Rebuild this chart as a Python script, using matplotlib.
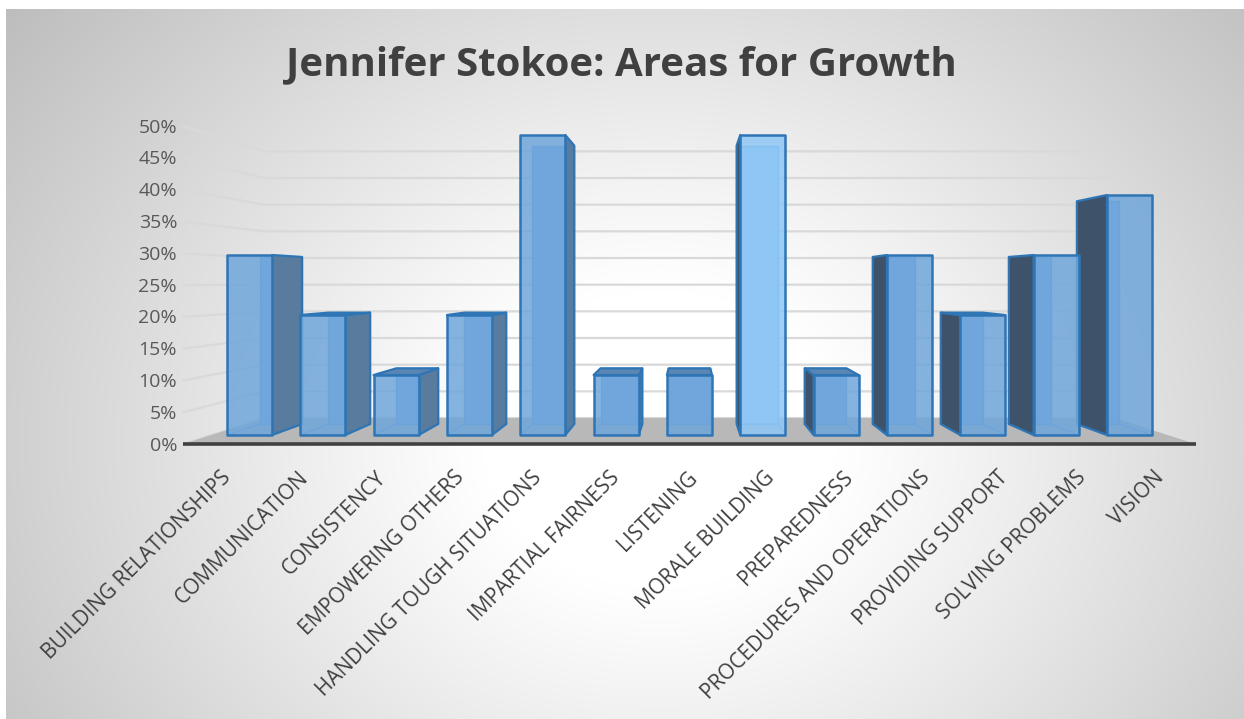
import numpy as np
import matplotlib.pyplot as plt
from matplotlib.patches import Polygon

# chart data
categories = [
    "BUILDING RELATIONSHIPS", "COMMUNICATION", "CONSISTENCY",
    "EMPOWERING OTHERS", "HANDLING TOUGH SITUATIONS", "IMPARTIAL FAIRNESS",
    "LISTENING", "MORALE BUILDING", "PREPAREDNESS",
    "PROCEDURES AND OPERATIONS", "PROVIDING SUPPORT", "SOLVING PROBLEMS",
    "VISION",
]
values = [30, 20, 10, 20, 50, 10, 10, 50, 10, 30, 20, 30, 40]
y_ticks = [0, 5, 10, 15, 20, 25, 30, 35, 40, 45, 50]
tick_labels = [f"{t}%" for t in y_ticks]
title = "Jennifer Stokoe: Areas for Growth"

# 3d look: simple perspective toward a vanishing point
VPX, VPY = 6.0, 25.5
K_FRONT, K_BAR_F, K_BAR_B, K_WALL = 1.06, 1.0, 0.928, 0.889
HALF = 0.307
WALL_L, WALL_R = -0.52, 12.52

FRONT_C = "#70a6db"
HILITE_C = "#8ec7f6"
EDGE_C = "#2e75b6"
INNER_C = "#5b9bd5"
SIDE_L_C = "#587b9e"
SIDE_R_C = "#3e5369"
TOP_C = "#5b86b3"


def proj(x, y, k):
    return VPX + k * (x - VPX), VPY + k * (y - VPY)


def quad(pts, **kw):
    return Polygon(pts, closed=True, **kw)


fig = plt.figure(figsize=(12.44, 7.19), dpi=100)

# background with radial shading
bg = fig.add_axes([0, 0, 1, 1])
bg.set_xlim(0, 1244)
bg.set_ylim(719, 0)
bg.axis("off")
gx, gy = np.meshgrid(np.linspace(6, 1244, 400), np.linspace(9, 719, 240))
r = np.sqrt(((gx - 660) / 640) ** 2 + ((gy - 440) / 540) ** 2)
shade = 255 - 68 * np.clip((r - 0.28) / 1.05, 0, 1) ** 1.05
img = np.dstack([shade, shade, shade]) / 255
bg.imshow(img, extent=(6, 1244, 719, 9), aspect="auto", interpolation="bilinear")

ax = fig.add_axes([0, 0, 1, 1])
ax.set_xlim(-3.402, 13.562)
ax.set_ylim(-47.33, 72.5)
ax.axis("off")

# gridlines on the side and back walls
for t in y_ticks:
    p0 = proj(WALL_L, t, K_FRONT)
    p1 = proj(WALL_L, t, K_WALL)
    p2 = proj(WALL_R, t, K_WALL)
    ax.plot([p0[0], p1[0], p2[0]], [p0[1], p1[1], p2[1]],
            color="#d9d9d9", lw=1.6, zorder=1, solid_capstyle="butt")

# floor
floor = [proj(WALL_L, 0, K_FRONT), proj(WALL_R, 0, K_FRONT),
         proj(WALL_R, 0, K_WALL), proj(WALL_L, 0, K_WALL)]
ax.add_patch(quad(floor, facecolor="#b8b8b8", edgecolor="none", zorder=2))
a0 = proj(WALL_L, 0, K_FRONT)
a1 = proj(WALL_R, 0, K_FRONT)
ax.plot([a0[0], a1[0]], [a0[1], a1[1]], color="#404040", lw=2.6, zorder=3,
        solid_capstyle="butt")

# y tick labels
for t, lab in zip(y_ticks, tick_labels):
    p = proj(WALL_L, t, K_FRONT)
    ax.annotate(lab, p, xytext=(-4, -1), textcoords="offset points",
                ha="right", va="center", fontsize=14, color="#595959",
                family="Open Sans")

# bars, drawn so nearer faces cover farther ones
order = [i for i in range(len(values)) if i <= VPX] + \
        [i for i in range(len(values)) if i > VPX][::-1]
for n, i in enumerate(order):
    v = values[i]
    z = 10 + n
    x0, x1 = i - HALF, i + HALF
    fc = HILITE_C if i == 7 else FRONT_C
    fb = [proj(x0, 0, K_BAR_B), proj(x1, 0, K_BAR_B),
          proj(x1, v, K_BAR_B), proj(x0, v, K_BAR_B)]
    ff = [proj(x0, 0, K_BAR_F), proj(x1, 0, K_BAR_F),
          proj(x1, v, K_BAR_F), proj(x0, v, K_BAR_F)]
    # back face and hidden edges show through the front
    ax.add_patch(quad(fb, facecolor=fc, edgecolor=INNER_C, lw=1.0, zorder=z))
    ax.add_patch(quad([ff[0], ff[1], fb[1], fb[0]], facecolor="none",
                      edgecolor=INNER_C, lw=1.0, zorder=z))
    # visible side face
    if i < VPX:
        side = [ff[1], fb[1], fb[2], ff[2]]
        ax.add_patch(quad(side, facecolor=SIDE_L_C, edgecolor=EDGE_C,
                          lw=1.6, zorder=z + 0.1, joinstyle="round"))
    elif i > VPX:
        side = [ff[0], fb[0], fb[3], ff[3]]
        ax.add_patch(quad(side, facecolor=SIDE_R_C, edgecolor=EDGE_C,
                          lw=1.6, zorder=z + 0.1, joinstyle="round"))
    # top face when the bar is below eye level
    if v < VPY:
        top = [ff[3], ff[2], fb[2], fb[3]]
        ax.add_patch(quad(top, facecolor=TOP_C, edgecolor=EDGE_C,
                          lw=1.6, zorder=z + 0.2, joinstyle="round"))
    ax.bar(i, v, width=2 * HALF, bottom=0, color=fc, alpha=0.85,
           edgecolor="none", zorder=z + 0.3)
    ax.add_patch(quad(ff, facecolor="none", edgecolor=EDGE_C, lw=1.8,
                      zorder=z + 0.4, joinstyle="round"))

# category labels along the front edge
for i, cat in enumerate(categories):
    p = proj(i, 0, K_FRONT)
    ax.annotate(cat, p, xytext=(-2, -16.5), textcoords="offset points",
                ha="right", va="top", rotation=45, rotation_mode="anchor",
                fontsize=15, color="#404040", family="Open Sans")

fig.text(621 / 1244, 1 - 75 / 719, title, ha="center", va="baseline",
         fontsize=29, fontweight="bold", color="#404040", family="Open Sans")

fig.savefig("out.png", dpi=100)
